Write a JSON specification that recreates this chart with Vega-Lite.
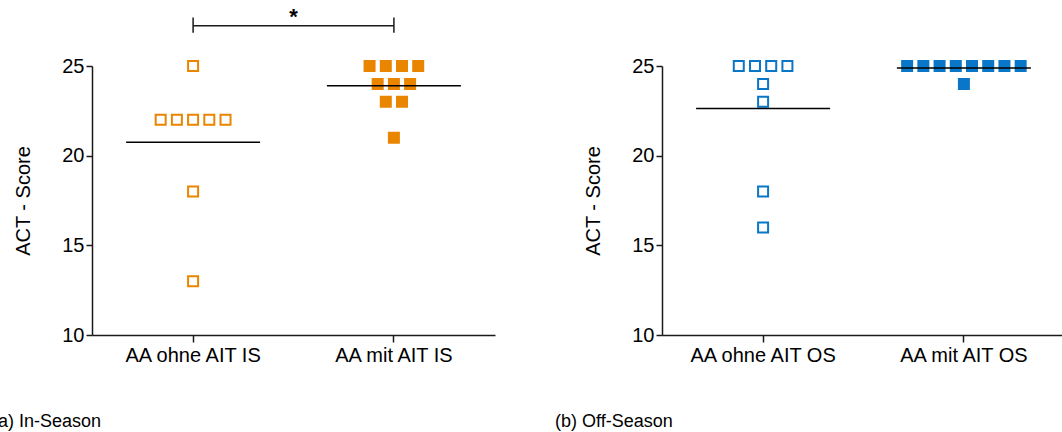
{
  "$schema": "https://vega.github.io/schema/vega-lite/v6.json",
  "padding": {"left": -8, "top": 6, "right": 0, "bottom": 0},
  "spacing": 60,
  "config": {
    "font": "Liberation Sans",
    "view": {"stroke": null},
    "axis": {
      "domainColor": "#1a1a1a", "domainWidth": 1.5,
      "tickColor": "#1a1a1a", "tickWidth": 1.5,
      "labelColor": "#000000", "titleColor": "#000000",
      "labelFontSize": 20, "titleFontSize": 20, "titleFontWeight": "normal",
      "labelFont": "Liberation Sans", "titleFont": "Liberation Sans",
      "grid": false
    },
    "axisX": {"tickSize": 7, "labelPadding": 3, "labelAngle": 0, "title": null},
    "axisY": {"tickSize": 6, "labelPadding": 2, "titlePadding": 28},
    "title": {"fontWeight": "normal", "fontSize": 18, "font": "Liberation Sans", "color": "#000000"}
  },
  "datasets": {
    "act": [
      {"season": "IS", "group": "AA ohne AIT IS", "ait": "ohne", "score": 25},
      {"season": "IS", "group": "AA ohne AIT IS", "ait": "ohne", "score": 22},
      {"season": "IS", "group": "AA ohne AIT IS", "ait": "ohne", "score": 22},
      {"season": "IS", "group": "AA ohne AIT IS", "ait": "ohne", "score": 22},
      {"season": "IS", "group": "AA ohne AIT IS", "ait": "ohne", "score": 22},
      {"season": "IS", "group": "AA ohne AIT IS", "ait": "ohne", "score": 22},
      {"season": "IS", "group": "AA ohne AIT IS", "ait": "ohne", "score": 18},
      {"season": "IS", "group": "AA ohne AIT IS", "ait": "ohne", "score": 13},
      {"season": "IS", "group": "AA mit AIT IS", "ait": "mit", "score": 25},
      {"season": "IS", "group": "AA mit AIT IS", "ait": "mit", "score": 25},
      {"season": "IS", "group": "AA mit AIT IS", "ait": "mit", "score": 25},
      {"season": "IS", "group": "AA mit AIT IS", "ait": "mit", "score": 25},
      {"season": "IS", "group": "AA mit AIT IS", "ait": "mit", "score": 24},
      {"season": "IS", "group": "AA mit AIT IS", "ait": "mit", "score": 24},
      {"season": "IS", "group": "AA mit AIT IS", "ait": "mit", "score": 24},
      {"season": "IS", "group": "AA mit AIT IS", "ait": "mit", "score": 23},
      {"season": "IS", "group": "AA mit AIT IS", "ait": "mit", "score": 23},
      {"season": "IS", "group": "AA mit AIT IS", "ait": "mit", "score": 21},
      {"season": "OS", "group": "AA ohne AIT OS", "ait": "ohne", "score": 25},
      {"season": "OS", "group": "AA ohne AIT OS", "ait": "ohne", "score": 25},
      {"season": "OS", "group": "AA ohne AIT OS", "ait": "ohne", "score": 25},
      {"season": "OS", "group": "AA ohne AIT OS", "ait": "ohne", "score": 25},
      {"season": "OS", "group": "AA ohne AIT OS", "ait": "ohne", "score": 24},
      {"season": "OS", "group": "AA ohne AIT OS", "ait": "ohne", "score": 23},
      {"season": "OS", "group": "AA ohne AIT OS", "ait": "ohne", "score": 18},
      {"season": "OS", "group": "AA ohne AIT OS", "ait": "ohne", "score": 16},
      {"season": "OS", "group": "AA mit AIT OS", "ait": "mit", "score": 25},
      {"season": "OS", "group": "AA mit AIT OS", "ait": "mit", "score": 25},
      {"season": "OS", "group": "AA mit AIT OS", "ait": "mit", "score": 25},
      {"season": "OS", "group": "AA mit AIT OS", "ait": "mit", "score": 25},
      {"season": "OS", "group": "AA mit AIT OS", "ait": "mit", "score": 25},
      {"season": "OS", "group": "AA mit AIT OS", "ait": "mit", "score": 25},
      {"season": "OS", "group": "AA mit AIT OS", "ait": "mit", "score": 25},
      {"season": "OS", "group": "AA mit AIT OS", "ait": "mit", "score": 25},
      {"season": "OS", "group": "AA mit AIT OS", "ait": "mit", "score": 24}
    ]
  },
  "hconcat": [
    {
      "width": 403,
      "height": 269,
      "title": {"text": "(a)  In-Season", "orient": "bottom", "anchor": "start", "frame": "group", "dx": -100, "offset": 48},
      "layer": [
        {
          "data": {"name": "act"},
          "transform": [
            {"filter": "datum.season === 'IS'"},
            {"window": [{"op": "row_number", "as": "k"}], "groupby": ["group", "score"]},
            {"joinaggregate": [{"op": "count", "as": "n"}], "groupby": ["group", "score"]},
            {"calculate": "datum.k - (datum.n + 1) / 2", "as": "off"}
          ],
          "mark": {"type": "point", "shape": "square", "size": 100, "strokeWidth": 2, "opacity": 1},
          "encoding": {
            "x": {"field": "group", "type": "nominal",
                  "scale": {"domain": ["AA ohne AIT IS", "AA mit AIT IS"], "paddingInner": 0.333, "paddingOuter": 0.17}},
            "xOffset": {"field": "off", "type": "quantitative", "scale": {"domain": [-4.13, 4.13]}},
            "y": {"field": "score", "type": "quantitative",
                  "scale": {"domain": [10, 25], "nice": false, "zero": false},
                  "axis": {"values": [10, 15, 20, 25], "title": "ACT - Score"}},
            "stroke": {"value": "#EA8500"},
            "fill": {"condition": {"test": "datum.ait === 'mit'", "value": "#EA8500"}, "value": "#ffffff"}
          }
        },
        {
          "data": {"name": "act"},
          "transform": [{"filter": "datum.season === 'IS'"}],
          "mark": {"type": "tick", "orient": "horizontal", "size": 134, "thickness": 1.5, "color": "#000000"},
          "encoding": {
            "x": {"field": "group", "type": "nominal"},
            "y": {"aggregate": "mean", "field": "score", "type": "quantitative"}
          }
        },
        {
          "data": {"values": [{}]},
          "mark": {"type": "rule", "strokeWidth": 1.5, "color": "#1a1a1a"},
          "encoding": {"x": {"datum": "AA ohne AIT IS"}, "x2": {"datum": "AA mit AIT IS"}, "y": {"datum": 27.25}}
        },
        {
          "data": {"values": [{}]},
          "mark": {"type": "rule", "strokeWidth": 1.5, "color": "#1a1a1a"},
          "encoding": {"x": {"datum": "AA ohne AIT IS"}, "y": {"datum": 26.85}, "y2": {"datum": 27.7}}
        },
        {
          "data": {"values": [{}]},
          "mark": {"type": "rule", "strokeWidth": 1.5, "color": "#1a1a1a"},
          "encoding": {"x": {"datum": "AA mit AIT IS"}, "y": {"datum": 26.85}, "y2": {"datum": 27.7}}
        },
        {
          "data": {"values": [{}]},
          "mark": {"type": "text", "text": "*", "fontSize": 22, "fontWeight": "bold", "baseline": "alphabetic", "align": "center", "color": "#000000"},
          "encoding": {"x": {"datum": "AA ohne AIT IS", "bandPosition": 1.25}, "y": {"datum": 27.33}}
        }
      ]
    },
    {
      "width": 403,
      "height": 269,
      "title": {"text": "(b)  Off-Season", "orient": "bottom", "anchor": "start", "frame": "group", "dx": -107, "offset": 48},
      "layer": [
        {
          "data": {"name": "act"},
          "transform": [
            {"filter": "datum.season === 'OS'"},
            {"window": [{"op": "row_number", "as": "k"}], "groupby": ["group", "score"]},
            {"joinaggregate": [{"op": "count", "as": "n"}], "groupby": ["group", "score"]},
            {"calculate": "datum.k - (datum.n + 1) / 2", "as": "off"}
          ],
          "mark": {"type": "point", "shape": "square", "size": 100, "strokeWidth": 2, "opacity": 1},
          "encoding": {
            "x": {"field": "group", "type": "nominal",
                  "scale": {"domain": ["AA ohne AIT OS", "AA mit AIT OS"], "paddingInner": 0.333, "paddingOuter": 0.17}},
            "xOffset": {"field": "off", "type": "quantitative", "scale": {"domain": [-4.13, 4.13]}},
            "y": {"field": "score", "type": "quantitative",
                  "scale": {"domain": [10, 25], "nice": false, "zero": false},
                  "axis": {"values": [10, 15, 20, 25], "title": "ACT - Score"}},
            "stroke": {"value": "#0A76C8"},
            "fill": {"condition": {"test": "datum.ait === 'mit'", "value": "#0A76C8"}, "value": "#ffffff"}
          }
        },
        {
          "data": {"name": "act"},
          "transform": [{"filter": "datum.season === 'OS'"}],
          "mark": {"type": "tick", "orient": "horizontal", "size": 134, "thickness": 1.5, "color": "#000000"},
          "encoding": {
            "x": {"field": "group", "type": "nominal"},
            "y": {"aggregate": "mean", "field": "score", "type": "quantitative"}
          }
        }
      ]
    }
  ]
}
